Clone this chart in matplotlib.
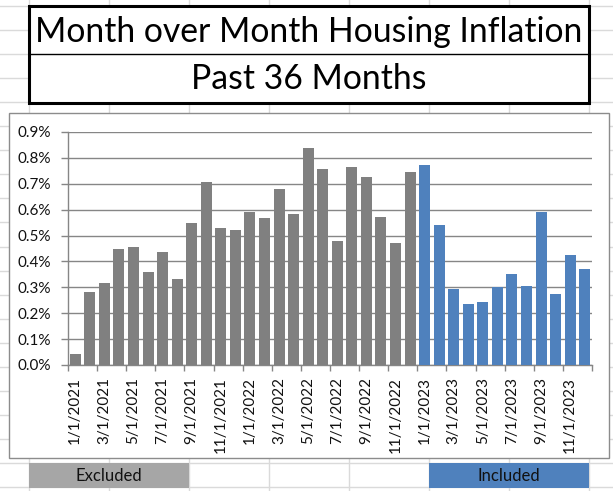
"""Month over month housing inflation, Excel-style screenshot."""

import matplotlib

matplotlib.use("Agg")
import matplotlib.pyplot as plt
import numpy as np
from matplotlib.patches import Rectangle
from matplotlib.ticker import FixedLocator, FuncFormatter

plt.rcParams["font.family"] = ["Lato", "DejaVu Sans"]

# monthly change, percent
mom_pct = [
    0.044, 0.282, 0.317, 0.447, 0.455, 0.359, 0.436, 0.332, 0.547, 0.705, 0.528, 0.521,
    0.590, 0.567, 0.678, 0.582, 0.840, 0.759, 0.478, 0.763, 0.728, 0.571, 0.471, 0.744,
    0.774, 0.540, 0.294, 0.236, 0.244, 0.301, 0.351, 0.305, 0.590, 0.274, 0.424, 0.371,
]
years = [2021, 2022, 2023]
month_labels = [f"{m}/1/{y}" for y in years for m in range(1, 13)]
n_excluded = 24

title_line1 = "Month over Month Housing Inflation"
title_line2 = "Past 36 Months"
excluded_label = "Excluded"
included_label = "Included"

GRAY_BAR = "#808080"
BLUE_BAR = "#4F81BD"
EXCL_FILL = "#A6A6A6"
AXIS_GRAY = "#868686"
SHEET_GRID = "#DADADA"

W, H = 613, 491
fig = plt.figure(figsize=(W / 100, H / 100), dpi=100)
fig.patch.set_facecolor("white")

# sheet layer in pixel coordinates
bg = fig.add_axes([0, 0, 1, 1])
bg.set_xlim(0, W)
bg.set_ylim(H, 0)
bg.axis("off")

for x in [29, 109, 189, 269, 349, 429, 509, 589]:
    bg.plot([x, x], [0, H], color=SHEET_GRID, lw=1, zorder=1)
for k in range(21):
    y = 6 + 24.05 * k
    bg.plot([0, W], [y, y], color=SHEET_GRID, lw=1, zorder=1)

# title box
bg.add_patch(Rectangle((29, 6), 560, 97, facecolor="white", edgecolor="black", lw=2.2, zorder=3))
bg.plot([29, 589], [54, 54], color="black", lw=1, zorder=4)
bg.text(309, 32, title_line1, ha="center", va="center", fontsize=24.3, color="black", zorder=5)
bg.text(309, 79, title_line2, ha="center", va="center", fontsize=24.3, color="black", zorder=5)

# status cells under the chart
bg.add_patch(Rectangle((29, 463), 160, 25, facecolor=EXCL_FILL, edgecolor="none", zorder=3))
bg.add_patch(Rectangle((429, 463), 160, 25, facecolor=BLUE_BAR, edgecolor="none", zorder=3))
bg.text(109, 476, excluded_label, ha="center", va="center", fontsize=12, color="#111111", zorder=5)
bg.text(509, 476, included_label, ha="center", va="center", fontsize=12, color="#111111", zorder=5)

# chart area
bg.add_patch(Rectangle((9, 113), 600, 345, facecolor="white", edgecolor="#8C8C8C", lw=1, zorder=6))

left, right, top, bottom = 68, 592, 132, 365
ax = fig.add_axes([left / W, (H - bottom) / H, (right - left) / W, (bottom - top) / H])
ax.set_zorder(10)
ax.patch.set_alpha(0)

x = np.arange(len(mom_pct))
colors = [GRAY_BAR if i < n_excluded else BLUE_BAR for i in x]
ax.bar(x, mom_pct, width=0.76, color=colors, zorder=3)

ax.set_xlim(-0.5, len(mom_pct) - 0.5)
ax.set_ylim(0, 0.9)
ax.yaxis.set_major_locator(FixedLocator(np.arange(0, 0.91, 0.1)))
ax.yaxis.set_major_formatter(FuncFormatter(lambda v, _: f"{v:.1f}%"))
ax.grid(axis="y", color=AXIS_GRAY, lw=1, zorder=0)
ax.set_axisbelow(True)

ax.set_xticks(x[::2])
ax.set_xticklabels(month_labels[::2], rotation=90, ha="center", va="top")
ax.set_xticks(np.arange(-0.5, len(mom_pct), 2), minor=True)
ax.tick_params(axis="x", which="major", length=0, pad=9, labelsize=11, labelcolor="#111111")
ax.tick_params(axis="x", which="minor", length=4, width=1, color=AXIS_GRAY, direction="out")
ax.tick_params(axis="y", length=5, width=1, color=AXIS_GRAY, pad=7, labelsize=11, labelcolor="#111111")

for side in ["top", "right"]:
    ax.spines[side].set_visible(False)
for side in ["left", "bottom"]:
    ax.spines[side].set_color(AXIS_GRAY)
    ax.spines[side].set_linewidth(1)

fig.savefig("out.png", dpi=100)
plt.close(fig)
